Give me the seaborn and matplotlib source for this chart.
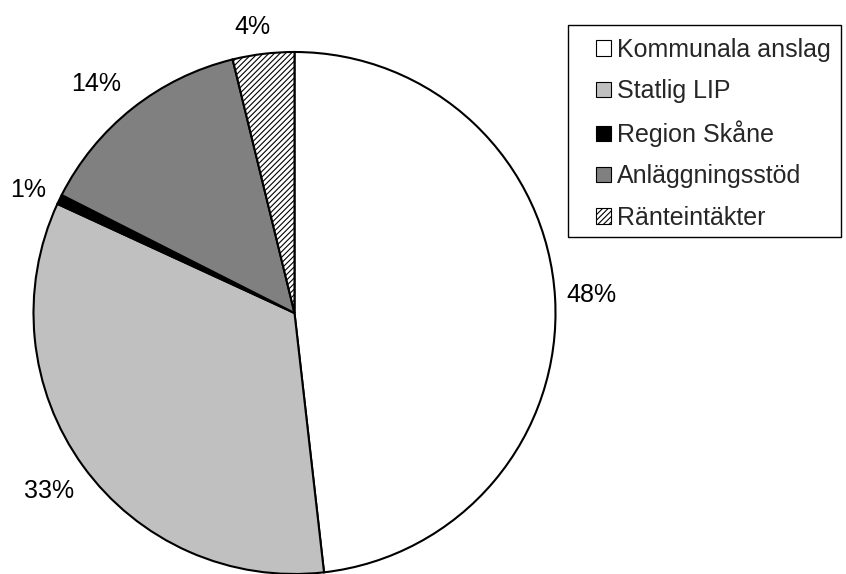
import matplotlib
matplotlib.use("Agg")
import matplotlib.pyplot as plt
import seaborn as sns
import numpy as np
from matplotlib.patches import Patch, Rectangle

sns.set_theme(style="white")
plt.rcParams['font.family'] = ['Liberation Sans', 'DejaVu Sans']
plt.rcParams['hatch.color'] = '#8a8a8a'
plt.rcParams['hatch.linewidth'] = 0.8

categories = ["Kommunala anslag", "Statlig LIP", "Region Skåne", "Anläggningsstöd", "Ränteintäkter"]
values = [48.1, 33.6, 0.6, 13.7, 3.8]
labels = ["48%", "33%", "1%", "14%", "4%"]

colors = ["#ffffff", "#c0c0c0", "#000000", "#808080", "#ffffff"]
hatches = [None, None, None, None, "//////"]
# label positions in pie radius units
label_pos = [(1.136, 0.069), (-0.939, -0.682), (-1.019, 0.471), (-0.759, 0.879), (-0.161, 1.094)]

W, H = 846, 574
FS = 18
fig = plt.figure(figsize=(W / 100, H / 100), dpi=100)
cx, cy, r = 294.5, 313, 261
ax = fig.add_axes([(cx - r) / W, (H - cy - r) / H, 2 * r / W, 2 * r / H])

wedges, _ = ax.pie(values, colors=colors, startangle=90, counterclock=False, radius=1,
                   wedgeprops=dict(edgecolor="black", linewidth=1.5))
ax.set_xlim(-1, 1)
ax.set_ylim(-1, 1)
ax.set_aspect("equal")
ax.axis("off")
for w, h in zip(wedges, hatches):
    w.set_clip_on(False)
    if h:
        w.set_hatch(h)
for lab, (x, y) in zip(labels, label_pos):
    ax.text(x, y, lab, ha="center", va="center", fontsize=FS, color="black", clip_on=False)

# legend frame
fig.patches.append(Rectangle((568 / W, 1 - 237 / H), (841 - 568) / W, (237 - 25) / H,
                             transform=fig.transFigure, facecolor="white", edgecolor="black",
                             linewidth=1.0, zorder=0))

handles = [Patch(facecolor=c, edgecolor="black", hatch=h, linewidth=0.8) for c, h in zip(colors, hatches)]
leg = fig.legend(handles, categories, loc="upper left", bbox_to_anchor=(596 / W, 1 - 38 / H),
                 bbox_transform=fig.transFigure, frameon=False, fontsize=FS,
                 handlelength=0.58, handleheight=0.58, handletextpad=0.26, labelspacing=0.69,
                 borderpad=0, borderaxespad=0)

fig.savefig("out.png", dpi=100)
